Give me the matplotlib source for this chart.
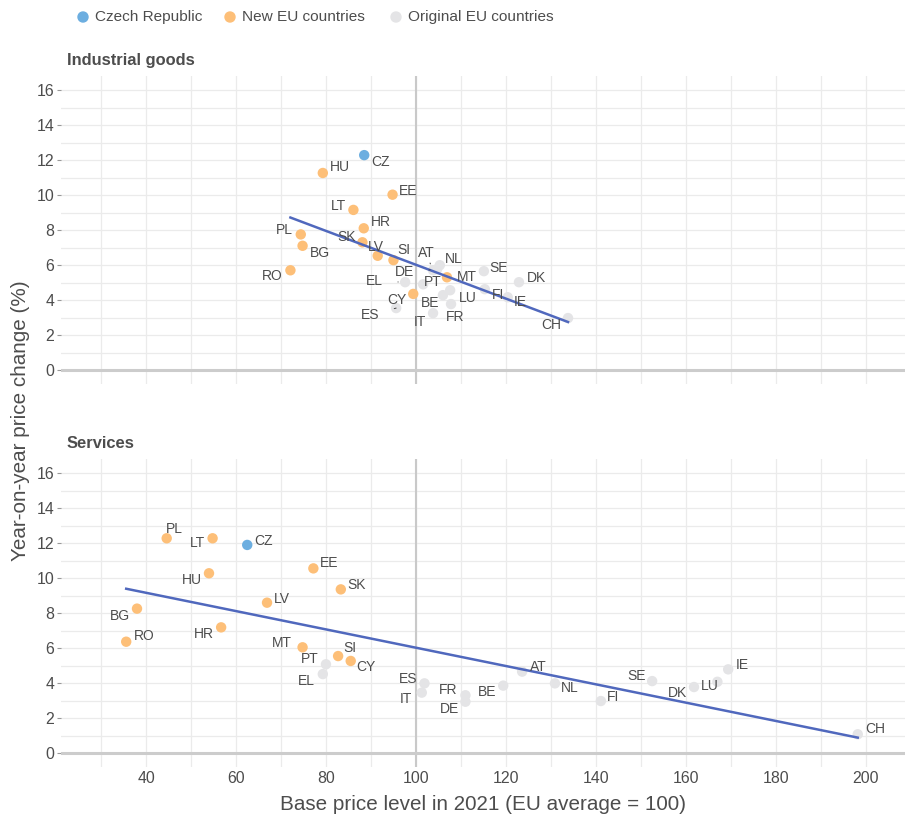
import matplotlib
matplotlib.use("Agg")
import matplotlib.pyplot as plt
from matplotlib import font_manager
import numpy as np

# --- data ---
new_eu = ["HU", "EE", "LT", "HR", "SK", "PL", "BG", "RO", "LV", "SI", "MT", "CY"]

goods_codes = ["CZ", "HU", "EE", "LT", "HR", "SK", "PL", "BG", "RO", "LV", "SI", "MT", "CY",
               "AT", "DE", "NL", "EL", "PT", "ES", "BE", "LU", "FR", "IT", "SE", "DK", "FI", "IE", "CH"]
goods_price_level = [88.5, 79.3, 94.8, 86.1, 88.4, 88.1, 74.4, 74.8, 72.1, 91.5, 95.0, 106.9, 99.4,
                     103.8, 104.7, 105.3, 97.6, 101.6, 95.6, 106.0, 107.6, 107.8, 103.8, 115.1, 122.9,
                     115.3, 120.4, 133.8]
goods_change = [12.28, 11.26, 10.02, 9.15, 8.10, 7.30, 7.75, 7.10, 5.70, 6.53, 6.28, 5.30, 4.35,
                5.70, 5.76, 5.99, 5.02, 4.90, 3.54, 4.28, 4.56, 3.77, 3.25, 5.65, 5.02,
                4.62, 4.16, 2.97]

serv_codes = ["PL", "LT", "CZ", "HU", "EE", "SK", "LV", "BG", "RO", "HR", "MT", "SI", "CY", "PT",
              "EL", "ES", "IT", "FR", "DE", "BE", "AT", "NL", "FI", "SE", "DK", "LU", "IE", "CH"]
serv_price_level = [44.6, 54.8, 62.5, 54.0, 77.2, 83.3, 66.9, 38.0, 35.6, 56.7, 74.8, 82.7, 85.5, 80.0,
                    79.3, 101.9, 101.3, 111.0, 111.0, 119.4, 123.6, 130.9, 141.1, 152.5, 161.8, 167.0,
                    169.4, 198.2]
serv_change = [12.27, 12.27, 11.89, 10.27, 10.55, 9.35, 8.59, 8.25, 6.36, 7.18, 6.04, 5.54, 5.26, 5.07,
               4.51, 3.98, 3.45, 3.30, 2.93, 3.85, 4.65, 3.98, 2.97, 4.11, 3.77, 4.07,
               4.78, 1.07]

# label offsets in pixels (dx, dy down), True = leader segment
goods_offsets = {
    "CZ": (16, 7), "HU": (17, -6), "EE": (16, -4), "LT": (-15, -4), "HR": (17, -6),
    "SK": (-16, -5), "PL": (-16, -4), "BG": (17, 7), "RO": (-18, 6), "LV": (-2, -9),
    "SI": (10, -10), "MT": (20, 0), "CY": (-16, 6), "AT": (-7, -17, True), "DE": (-33, 3, True),
    "NL": (14, -6), "EL": (-31, -1, True), "PT": (10, -2), "ES": (-26, 7, True), "BE": (-13, 8),
    "LU": (18, 8), "FR": (4, 13), "IT": (-13, 9), "SE": (15, -3), "DK": (18, -4),
    "FI": (13, 6), "IE": (13, 5), "CH": (-17, 7),
}
serv_offsets = {
    "PL": (8, -9), "LT": (-15, 5), "CZ": (16, -4), "HU": (-17, 7), "EE": (16, -5),
    "SK": (16, -4), "LV": (15, -4), "BG": (-17, 7), "RO": (18, -6), "HR": (-17, 7),
    "MT": (-21, -4), "SI": (12, -8), "CY": (15, 6), "PT": (-16, -5), "EL": (-16, 7),
    "ES": (-16, -4), "IT": (-16, 6), "FR": (-17, -5), "DE": (-16, 7), "BE": (-16, 6),
    "AT": (16, -5), "NL": (15, 5), "FI": (12, -4), "SE": (-16, -5), "DK": (-16, 6),
    "LU": (-8, 4), "IE": (14, -4), "CH": (17, -5),
}

C_CZ = "#6caee0"
C_NEW = "#fdbf78"
C_OLD = "#e4e4e6"
C_LINE = "#5068bd"
TXT = "#4d4d4d"
GRID = "#ebebeb"

installed = {f.name for f in font_manager.fontManager.ttflist}
narrow_ok = "Liberation Sans Narrow" in installed
narrow = ["Liberation Sans Narrow" if narrow_ok else "Liberation Sans", "DejaVu Sans"]
k = 1.0 if narrow_ok else 0.85   # shrink when falling back to the wide face
plt.rcParams["font.family"] = ["Liberation Sans", "DejaVu Sans"]

fig = plt.figure(figsize=(9.1, 8.22), dpi=100)
ax_top = fig.add_axes([0.067, 0.5328, 0.9275, 0.3747])
ax_bot = fig.add_axes([0.067, 0.0669, 0.9275, 0.3747])


def colour(code):
    if code == "CZ":
        return C_CZ
    if code in new_eu:
        return C_NEW
    return C_OLD


def draw_panel(ax, codes, xs, ys, offsets, title, show_x):
    xs = np.array(xs)
    ys = np.array(ys)
    ax.set_xlim(21.1, 208.7)
    ax.set_ylim(-0.8, 16.8)
    ax.set_xticks(np.arange(40, 201, 20))
    ax.set_xticks(np.arange(30, 201, 20), minor=True)
    ax.set_yticks(np.arange(0, 17, 2))
    ax.set_yticks(np.arange(1, 17, 2), minor=True)
    ax.grid(True, which="both", color=GRID, lw=0.9)
    ax.set_axisbelow(True)
    for s in ax.spines.values():
        s.set_visible(False)
    ax.tick_params(axis="y", which="major", length=3, color="#999999", labelsize=13.5 * k,
                   labelcolor=TXT, pad=2)
    ax.tick_params(axis="x", which="major", length=0, labelsize=13.5 * k, labelcolor=TXT, pad=3)
    ax.tick_params(which="minor", length=0)
    for lab in ax.get_yticklabels() + ax.get_xticklabels():
        lab.set_family(narrow)
    if not show_x:
        ax.set_xticklabels([])

    ax.axvline(100, color="#c9c9c9", lw=1.5, zorder=1)
    ax.axhline(0, color="#cccccc", lw=2.2, zorder=1)

    # original countries first, then new members, CZ on top
    order = sorted(range(len(codes)), key=lambda i: 0 if colour(codes[i]) == C_OLD else 1)
    for i in order:
        ax.scatter(xs[i], ys[i], s=56, color=colour(codes[i]), edgecolors="none", zorder=3)

    slope, icept = np.polyfit(xs, ys, 1)
    xr = np.array([xs.min(), xs.max()])
    ax.plot(xr, slope * xr + icept, color=C_LINE, lw=1.8, zorder=4)

    for i, c in enumerate(codes):
        off = offsets[c]
        dx, dy = off[0], off[1]
        lead = len(off) > 2
        ax.annotate(c, (xs[i], ys[i]), xytext=(dx, -dy), textcoords="offset pixels",
                    ha="center", va="center", fontsize=10, color=TXT, zorder=5,
                    arrowprops=dict(arrowstyle="-", color="#444444", lw=0.7,
                                    shrinkA=9, shrinkB=5) if lead else None)

    ax.annotate(title, (0, 1), xycoords="axes fraction", xytext=(6, 16),
                textcoords="offset pixels", ha="left", va="center",
                fontsize=14 * k, fontweight="bold", color=TXT, family=narrow)


draw_panel(ax_top, goods_codes, goods_price_level, goods_change, goods_offsets,
           "Industrial goods", False)
draw_panel(ax_bot, serv_codes, serv_price_level, serv_change, serv_offsets,
           "Services", True)

fig.text(0.022, 0.488, "Year-on-year price change (%)", rotation=90, ha="center", va="center",
         fontsize=17.5 * k, color=TXT, family=narrow)
fig.text(0.531, 0.021, "Base price level in 2021 (EU average = 100)", ha="center", va="center",
         fontsize=17.5 * k, color=TXT, family=narrow)

# legend row
legend_items = [("Czech Republic", C_CZ, 83), ("New EU countries", C_NEW, 230),
                ("Original EU countries", C_OLD, 396)]
for name, col, px in legend_items:
    fig.patches.append(matplotlib.patches.Ellipse((px / 910, 1 - 17 / 822), 10 / 910, 10 / 822,
                                                  transform=fig.transFigure, color=col))
    fig.text((px + 12) / 910, 1 - 17 / 822, name, ha="left", va="center", fontsize=13 * k,
             color=TXT, family=narrow)

fig.savefig("out.png", dpi=100)
